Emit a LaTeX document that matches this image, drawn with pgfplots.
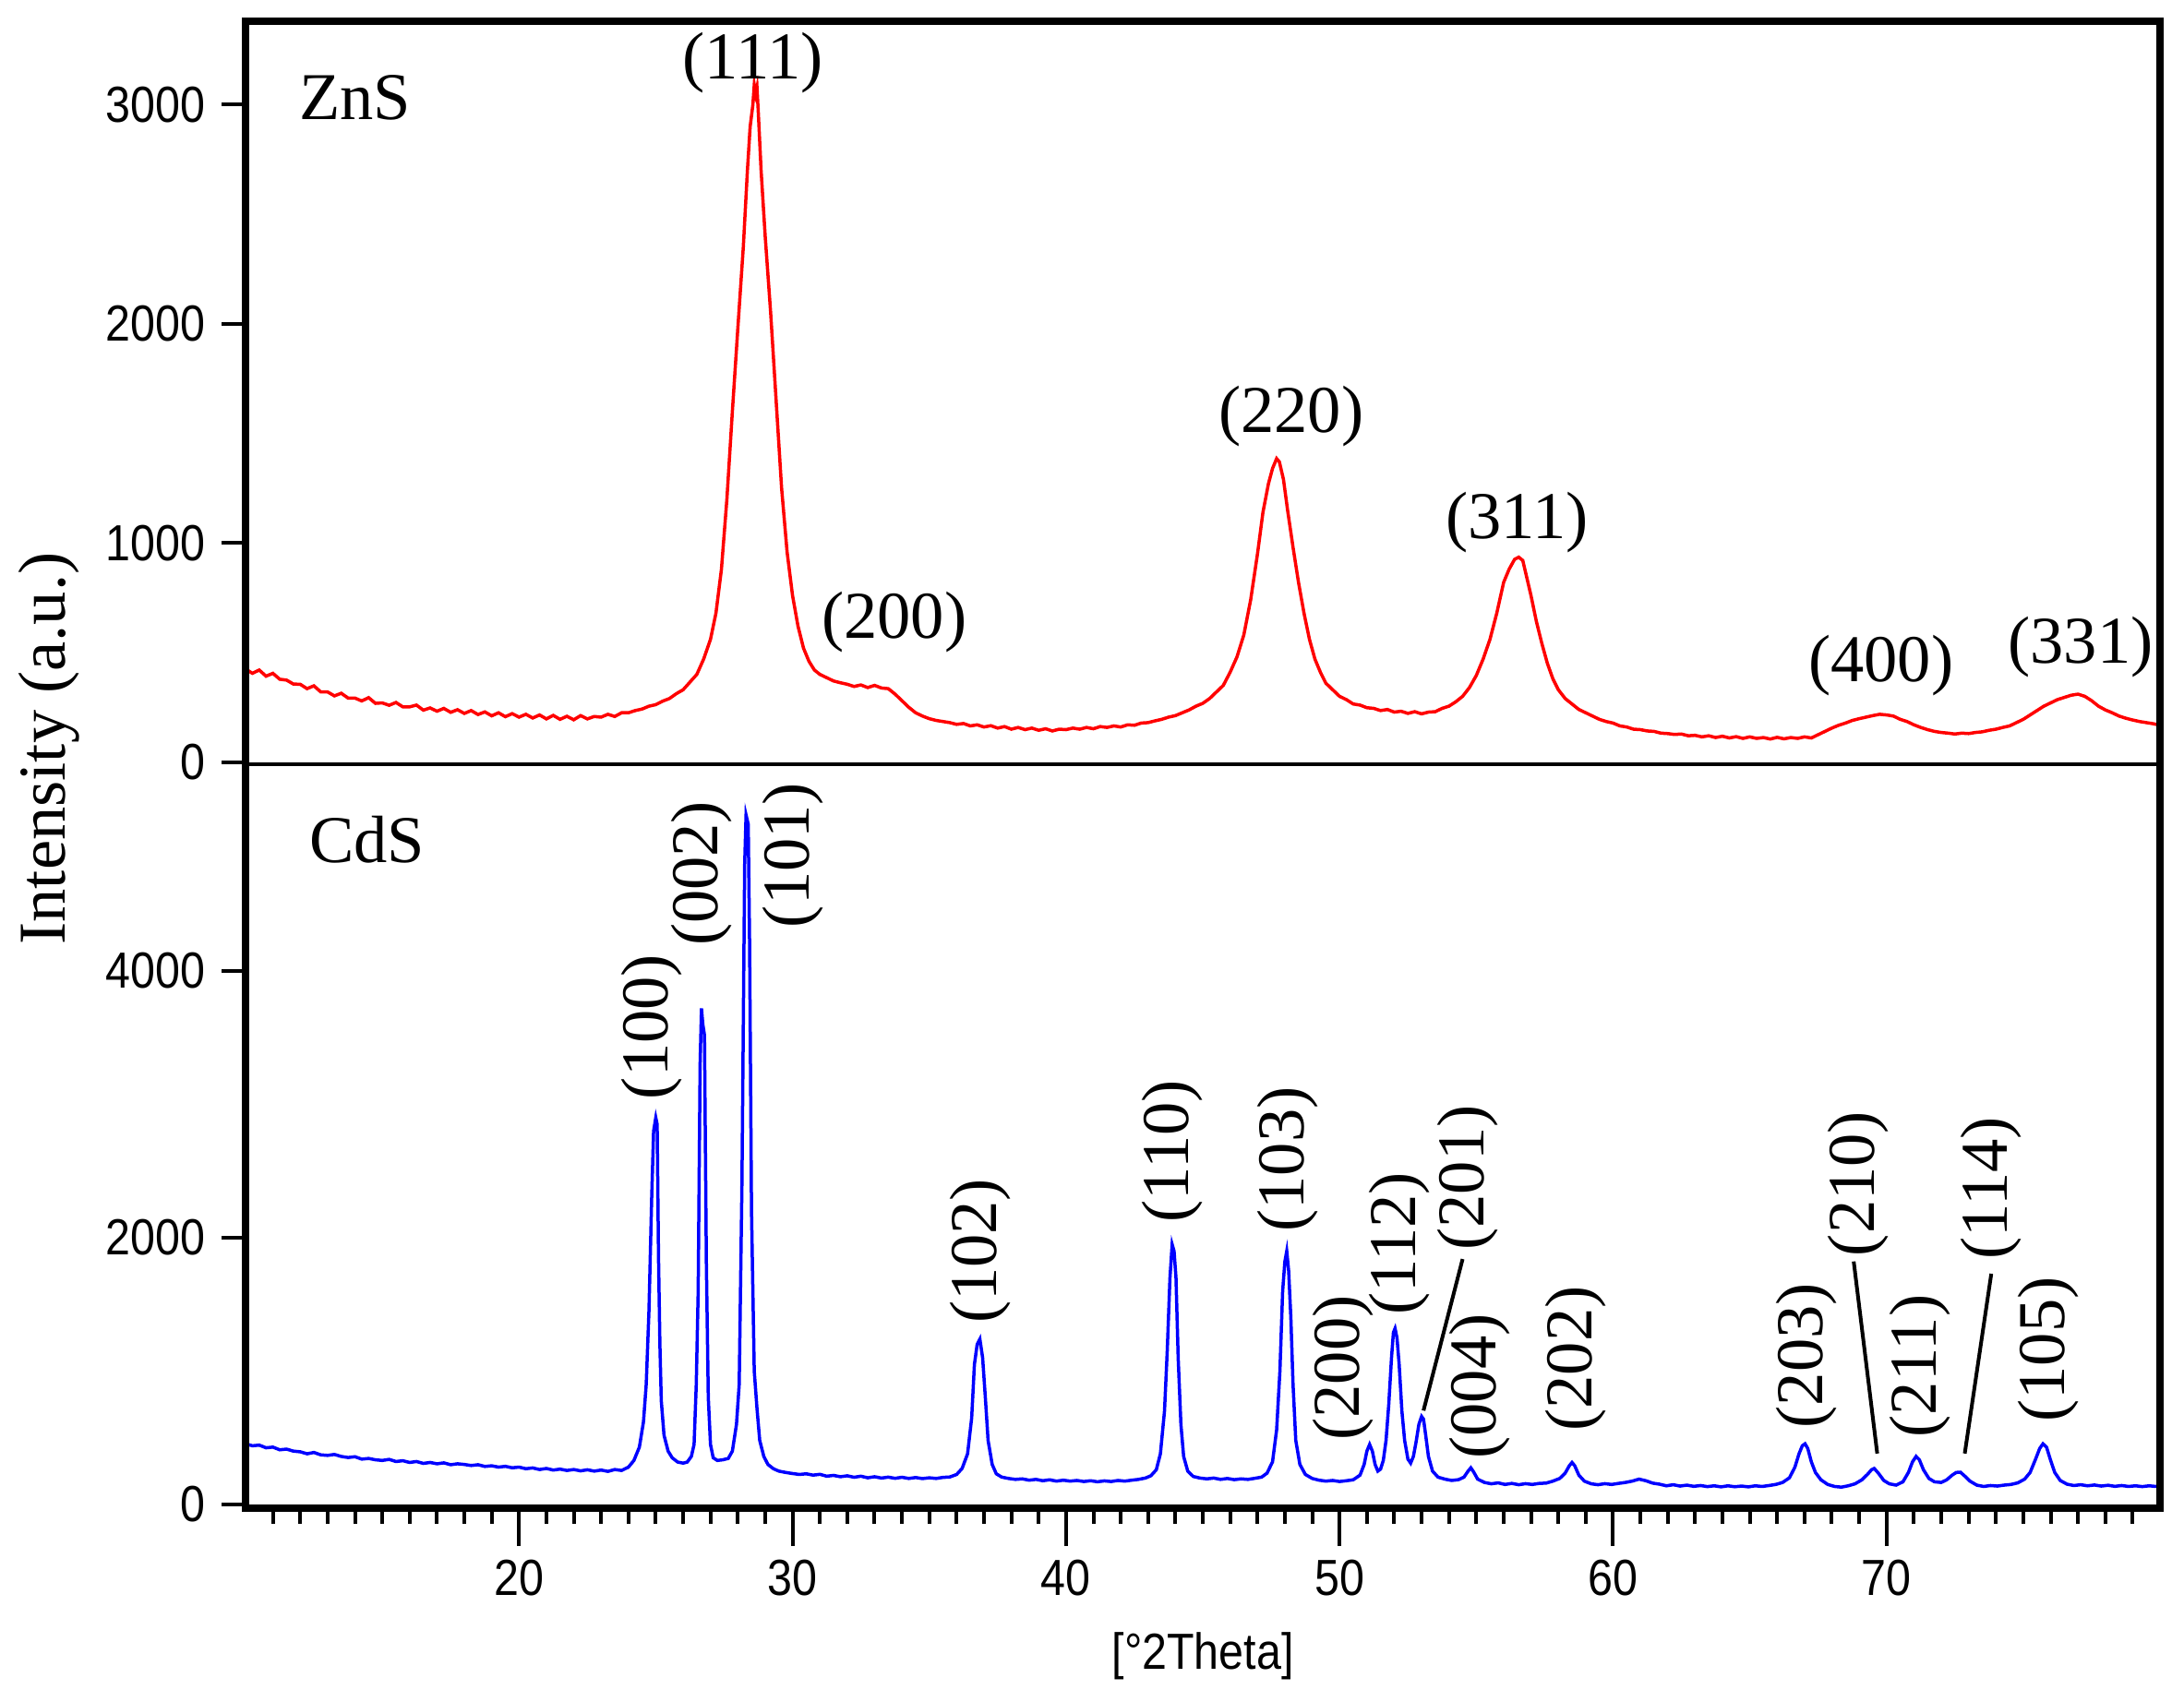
\documentclass[border=0pt]{standalone}
\usepackage{pgfplots}
\pgfplotsset{compat=1.18}
\usepackage{fontspec}
\setmainfont{Liberation Serif}
\newfontfamily\narrowsf[FakeStretch=0.88]{Liberation Sans}
\newcommand\labfont{\fontsize{14.5}{17}\selectfont}
\newcommand\tickfont{\fontsize{11}{13}\selectfont\narrowsf}
\definecolor{znsred}{RGB}{255,0,0}
\definecolor{cdsblue}{RGB}{0,0,255}

\pgfplotsset{
  xrdaxis/.style={
    width=414.8pt, height=161pt, scale only axis,
    xmin=10, xmax=80, clip=false,
    axis line style={draw=none},
    tick align=outside,
    ytick pos=left, xtick pos=bottom,
    tick style={black, line width=0.8pt},
    major tick length=5.2pt,
    tick label style={font=\tickfont},
    /pgf/number format/assume math mode=true,
    /pgf/number format/1000 sep={},
    scaled ticks=false,
  },
}
\tikzset{
  lab/.style={font=\labfont, inner sep=0pt},
  vlab/.style={font=\labfont, inner sep=0pt, rotate=90, anchor=west},
}

\begin{document}
\begin{tikzpicture}
% ---------------- ZnS ----------------
\begin{axis}[xrdaxis, name=top, ymin=-10, ymax=3381,
  ytick={0,1000,2000,3000}, xtick=\empty]
\addplot[znsred, line width=0.7pt] coordinates {
(10.0,425) (10.25,405) (10.5,420) (10.75,392) (11.0,405) (11.25,378) (11.5,374) (11.75,356)
(12.0,355) (12.25,335) (12.5,348) (12.75,320) (13.0,320) (13.25,302) (13.5,314) (13.75,292)
(14.0,292) (14.25,279) (14.5,294) (14.75,268) (15.0,270) (15.25,259) (15.5,272) (15.75,252)
(16.0,252) (16.25,260) (16.5,237) (16.75,247) (17.0,232) (17.25,245) (17.5,227) (17.75,239)
(18.0,222) (18.25,235) (18.5,217) (18.75,229) (19.0,211) (19.25,225) (19.5,207) (19.75,221)
(20.0,205) (20.25,218) (20.5,201) (20.75,215) (21.0,197) (21.25,213) (21.5,195) (21.75,209)
(22.0,193) (22.25,212) (22.5,197) (22.75,208) (23.0,205) (23.25,218) (23.5,208) (23.75,225)
(24.0,225) (24.25,235) (24.5,242) (24.75,255) (25.0,262) (25.25,278) (25.5,290) (25.75,312)
(26.0,330) (26.25,365) (26.5,400) (26.75,470) (27.0,560) (27.2,680) (27.4,880) (27.6,1200)
(27.8,1600) (28.0,1980) (28.2,2350) (28.35,2700) (28.45,2900) (28.55,3000) (28.6,3090) (28.65,3050)
(28.7,3080) (28.75,2960) (28.85,2700) (29.0,2400) (29.2,2050) (29.4,1650) (29.6,1250) (29.8,960)
(30.0,760) (30.2,620) (30.4,520) (30.6,460) (30.8,420) (31.0,400) (31.25,385) (31.5,370)
(31.75,362) (32.0,355) (32.25,345) (32.5,352) (32.75,340) (33.0,350) (33.25,338) (33.5,335)
(33.75,310) (34.0,280) (34.25,250) (34.5,225) (34.75,210) (35.0,198) (35.25,190) (35.5,185)
(35.75,180) (36.0,172) (36.25,176) (36.5,165) (36.75,170) (37.0,160) (37.25,166) (37.5,155)
(37.75,162) (38.0,150) (38.25,158) (38.5,148) (38.75,155) (39.0,145) (39.25,152) (39.5,142)
(39.75,150) (40.0,148) (40.25,155) (40.5,150) (40.75,158) (41.0,152) (41.25,162) (41.5,158)
(41.75,165) (42.0,160) (42.25,170) (42.5,168) (42.75,178) (43.0,180) (43.25,188) (43.5,195)
(43.75,205) (44.0,212) (44.25,225) (44.5,238) (44.75,255) (45.0,268) (45.25,290) (45.5,320)
(45.75,350) (46.0,410) (46.25,480) (46.5,580) (46.75,740) (47.0,950) (47.2,1140) (47.4,1270)
(47.55,1340) (47.7,1385) (47.8,1370) (47.95,1290) (48.1,1150) (48.3,980) (48.5,820) (48.7,680)
(48.9,560) (49.1,470) (49.3,410) (49.5,360) (49.75,330) (50.0,300) (50.25,285) (50.5,265)
(50.75,260) (51.0,248) (51.25,245) (51.5,235) (51.75,240) (52.0,228) (52.25,232) (52.5,222)
(52.75,230) (53.0,220) (53.25,228) (53.5,230) (53.75,245) (54.0,255) (54.25,275) (54.5,300)
(54.75,340) (55.0,395) (55.25,470) (55.5,560) (55.75,680) (56.0,820) (56.2,880) (56.4,925)
(56.55,935) (56.7,920) (56.85,840) (57.0,760) (57.2,640) (57.4,540) (57.6,450) (57.8,380)
(58.0,330) (58.25,290) (58.5,265) (58.75,240) (59.0,225) (59.25,210) (59.5,195) (59.75,185)
(60.0,178) (60.25,165) (60.5,160) (60.75,150) (61.0,148) (61.25,142) (61.5,140) (61.75,132)
(62.0,130) (62.25,126) (62.5,128) (62.75,120) (63.0,122) (63.25,115) (63.5,120) (63.75,112)
(64.0,118) (64.25,110) (64.5,116) (64.75,108) (65.0,115) (65.25,108) (65.5,112) (65.75,105)
(66.0,113) (66.25,106) (66.5,112) (66.75,108) (67.0,115) (67.25,110) (67.5,125) (67.75,140)
(68.0,155) (68.25,168) (68.5,178) (68.75,190) (69.0,198) (69.25,205) (69.5,212) (69.75,218)
(70.0,215) (70.25,210) (70.5,195) (70.75,185) (71.0,170) (71.25,158) (71.5,148) (71.75,140)
(72.0,135) (72.25,132) (72.5,128) (72.75,132) (73.0,130) (73.25,135) (73.5,138) (73.75,145)
(74.0,150) (74.25,158) (74.5,165) (74.75,180) (75.0,195) (75.25,215) (75.5,235) (75.75,255)
(76.0,270) (76.25,285) (76.5,295) (76.75,305) (77.0,310) (77.25,300) (77.5,280) (77.75,255)
(78.0,238) (78.25,225) (78.5,210) (78.75,200) (79.0,192) (79.25,185) (79.5,180) (79.75,175)
(80.0,168)
};
\node[lab] at (axis cs:14.0,3032) {ZnS};
\node[lab] at (axis cs:28.55,3190) {(111)};
\node[lab] at (axis cs:33.72,640) {(200)};
\node[lab] at (axis cs:48.23,1576) {(220)};
\node[lab] at (axis cs:56.5,1092) {(311)};
\node[lab] at (axis cs:69.8,441) {(400)};
\node[lab] at (axis cs:77.1,523) {(331)};
\end{axis}

% ---------------- CdS ----------------
\begin{axis}[xrdaxis, name=bot, at={(top.south west)}, anchor=north west,
  height=161.2pt, ymin=-28, ymax=5550,
  ytick={0,2000,4000},
  xtick={20,30,...,70}, minor xtick={11,12,...,79},
  minor tick length=3.3pt,
  xticklabel style={yshift=-2.5pt},
  xlabel={[°2Theta]},
  xlabel style={at={(axis description cs:0.5,0)}, anchor=center,
    yshift=-32pt, font=\tickfont}]
\addplot[cdsblue, line width=0.7pt] coordinates {
(10.0,455) (10.25,440) (10.5,445) (10.75,425) (11.0,430) (11.25,410) (11.5,415) (11.75,400)
(12.0,395) (12.25,380) (12.5,390) (12.75,372) (13.0,368) (13.25,375) (13.5,360) (13.75,352)
(14.0,358) (14.25,340) (14.5,345) (14.75,335) (15.0,330) (15.25,338) (15.5,322) (15.75,328)
(16.0,315) (16.25,322) (16.5,308) (16.75,315) (17.0,305) (17.25,312) (17.5,298) (17.75,305)
(18.0,300) (18.25,292) (18.5,298) (18.75,285) (19.0,290) (19.25,280) (19.5,286) (19.75,275)
(20.0,280) (20.25,268) (20.5,274) (20.75,262) (21.0,270) (21.25,258) (21.5,265) (21.75,255)
(22.0,262) (22.25,252) (22.5,260) (22.75,250) (23.0,258) (23.25,248) (23.5,262) (23.75,255)
(24.0,280) (24.2,330) (24.4,430) (24.55,620) (24.65,900) (24.75,1450) (24.85,2300) (24.92,2800)
(25.0,2900) (25.05,2850) (25.1,1850) (25.15,1200) (25.2,780) (25.3,520) (25.45,400) (25.6,350)
(25.8,318) (26.0,310) (26.15,318) (26.3,360) (26.4,450) (26.48,900) (26.55,1600) (26.62,3300)
(26.67,3720) (26.72,3600) (26.78,3520) (26.85,1800) (26.92,800) (27.0,450) (27.1,350) (27.25,330)
(27.45,335) (27.65,345) (27.8,400) (27.95,600) (28.05,900) (28.15,2400) (28.25,4800) (28.3,5170)
(28.38,5100) (28.43,4200) (28.5,2200) (28.6,1000) (28.7,720) (28.8,480) (28.95,360) (29.1,300)
(29.3,268) (29.5,250) (29.75,240) (30.0,232) (30.25,225) (30.5,230) (30.75,220) (31.0,226)
(31.25,212) (31.5,218) (31.75,208) (32.0,215) (32.25,204) (32.5,212) (32.75,200) (33.0,208)
(33.25,198) (33.5,205) (33.75,196) (34.0,204) (34.25,195) (34.5,202) (34.75,194) (35.0,200)
(35.25,195) (35.5,203) (35.75,206) (36.0,225) (36.2,270) (36.4,380) (36.55,650) (36.65,1050)
(36.75,1200) (36.85,1240) (36.95,1100) (37.05,800) (37.15,480) (37.3,300) (37.45,230) (37.65,205)
(37.9,195) (38.15,188) (38.4,192) (38.65,182) (38.9,188) (39.15,178) (39.4,185) (39.65,175)
(39.9,182) (40.15,175) (40.4,180) (40.65,172) (40.9,178) (41.15,170) (41.4,177) (41.65,172)
(41.9,180) (42.15,175) (42.4,182) (42.65,188) (42.9,198) (43.1,215) (43.3,260) (43.45,380)
(43.6,700) (43.7,1150) (43.8,1700) (43.88,1950) (43.95,1900) (44.02,1700) (44.1,1100) (44.2,600)
(44.3,360) (44.45,250) (44.65,210) (44.9,198) (45.15,192) (45.4,198) (45.65,188) (45.9,195)
(46.15,186) (46.4,192) (46.65,188) (46.9,196) (47.15,205) (47.35,235) (47.55,320) (47.7,560)
(47.82,1000) (47.92,1600) (48.0,1820) (48.07,1900) (48.14,1750) (48.22,1400) (48.3,900) (48.4,480)
(48.55,300) (48.75,225) (49.0,195) (49.25,182) (49.5,175) (49.75,180) (50.0,172) (50.25,178)
(50.5,185) (50.75,220) (50.9,300) (51.0,400) (51.1,450) (51.2,400) (51.3,300) (51.4,250)
(51.5,265) (51.6,330) (51.7,480) (51.8,750) (51.9,1100) (51.97,1290) (52.03,1320) (52.1,1250)
(52.18,1050) (52.28,700) (52.38,480) (52.5,340) (52.6,310) (52.7,360) (52.8,470) (52.9,600)
(53.0,660) (53.07,640) (53.15,520) (53.25,360) (53.4,250) (53.6,205) (53.85,190) (54.1,180)
(54.35,186) (54.55,205) (54.7,250) (54.8,275) (54.9,245) (55.05,190) (55.3,165) (55.55,155)
(55.8,162) (56.05,150) (56.3,158) (56.55,148) (56.8,156) (57.05,150) (57.3,158) (57.55,160)
(57.8,175) (58.05,195) (58.25,235) (58.4,290) (58.5,315) (58.6,290) (58.75,220) (58.95,175)
(59.2,155) (59.45,148) (59.7,156) (59.95,150) (60.2,158) (60.45,165) (60.7,175) (60.95,190)
(61.2,178) (61.45,160) (61.7,152) (61.95,140) (62.2,148) (62.45,138) (62.7,145) (62.95,136)
(63.2,142) (63.45,134) (63.7,140) (63.95,132) (64.2,140) (64.45,133) (64.7,138) (64.95,132)
(65.2,140) (65.45,135) (65.7,142) (65.95,150) (66.2,165) (66.45,200) (66.65,280) (66.8,380)
(66.92,440) (67.02,455) (67.12,420) (67.25,320) (67.4,240) (67.6,185) (67.85,150) (68.1,135)
(68.35,130) (68.6,140) (68.85,155) (69.1,185) (69.3,225) (69.45,260) (69.55,270) (69.7,235)
(69.9,180) (70.1,155) (70.35,145) (70.6,170) (70.8,240) (70.95,320) (71.08,360) (71.2,335)
(71.35,260) (71.55,195) (71.75,170) (72.0,165) (72.2,185) (72.4,220) (72.55,240) (72.7,242)
(72.85,215) (73.05,175) (73.3,145) (73.55,135) (73.8,142) (74.05,138) (74.3,145) (74.55,150)
(74.8,162) (75.05,190) (75.25,240) (75.45,340) (75.6,420) (75.72,455) (75.85,430) (76.0,330)
(76.15,240) (76.35,180) (76.6,152) (76.85,142) (77.1,148) (77.35,140) (77.6,146) (77.85,138)
(78.1,144) (78.35,136) (78.6,142) (78.85,135) (79.1,140) (79.35,134) (79.6,140) (79.85,135)
(80.0,138)
};
\node[lab] at (axis cs:14.45,4983) {CdS};
\node[vlab] at (axis cs:24.86,3031) {(100)};
\node[vlab] at (axis cs:26.67,4180) {(002)};
\node[vlab] at (axis cs:30.03,4318) {(101)};
\node[vlab] at (axis cs:36.87,1350) {(102)};
\node[vlab] at (axis cs:43.88,2107) {(110)};
\node[vlab] at (axis cs:48.1,2038) {(103)};
\node[vlab] at (axis cs:50.13,474) {(200)};
\node[vlab] at (axis cs:52.19,1417) {(112)};
\node[vlab] at (axis cs:54.69,1900) {(201)};
\node[vlab] at (axis cs:55.13,336) {(004)};
\node[vlab] at (axis cs:58.65,543) {(202)};
\node[vlab] at (axis cs:67.06,566) {(203)};
\node[vlab] at (axis cs:68.96,1854) {(210)};
\node[vlab] at (axis cs:71.22,497) {(211)};
\node[vlab] at (axis cs:73.83,1831) {(114)};
\node[vlab] at (axis cs:75.9,612) {(105)};
\draw[line width=0.8pt] (axis cs:54.5,1840) -- (axis cs:53.07,704);
\draw[line width=0.8pt] (axis cs:68.8,1822) -- (axis cs:69.66,382);
\draw[line width=0.8pt] (axis cs:73.83,1730) -- (axis cs:72.86,382);
\end{axis}

% longer major ticks on the 2Theta axis (overlay, no data)
\begin{axis}[xrdaxis, at={(bot.south west)}, anchor=south west,
  height=161.2pt, ymin=0, ymax=1,
  ytick=\empty, xtick={20,30,...,70}, xticklabels={},
  major tick length=8.2pt]
\end{axis}

% frame and separator
\draw[line width=1.6pt, line join=miter] (bot.south west) -- (bot.south east)
  -- (top.north east) -- (top.north west) -- cycle;
\draw[line width=0.8pt] (top.south west) -- (top.south east);
\node[rotate=90, font=\labfont, inner sep=0pt]
  at ([xshift=-42.6pt, yshift=3.4pt]top.south west) {Intensity (a.u.)};

\pgfresetboundingbox
\path[use as bounding box] ([xshift=-53.2pt, yshift=4.6pt]top.north west)
  rectangle ([xshift=5.2pt, yshift=-41.8pt]bot.south east);
\end{tikzpicture}
\end{document}
